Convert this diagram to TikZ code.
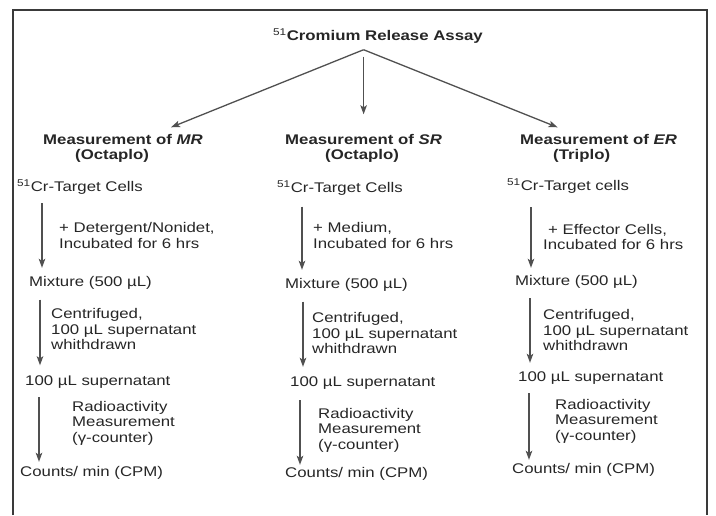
\documentclass[tikz,border=0pt]{standalone}
\usepackage{fontspec}
\setmainfont{Liberation Sans}[FakeStretch=1.2]
\usetikzlibrary{arrows.meta,calc}
\definecolor{ink}{HTML}{262626}
\definecolor{arrowgray}{HTML}{505050}
\definecolor{framegray}{HTML}{3A3A3A}
\begin{document}
\begin{tikzpicture}[x=1pt,y=-1pt,
  txt/.style={font=\fontsize{14}{15.5}\selectfont, text=ink, inner sep=0pt, anchor=west, align=left},
  one/.style={txt, text height=10pt, text depth=3pt},
  hd/.style={one, font=\fontsize{14}{15}\selectfont\bfseries},
  arr/.style={draw=arrowgray, line width=1.3pt, -{Stealth[length=9pt,width=6.5pt,inset=2pt]}},
]
\useasboundingbox (0,0) rectangle (716,515);
% frame
\draw[framegray, line width=1.8pt] (13,515) -- (13,10) -- (707,10) -- (707,515);

% title
\node[hd] (title) at (273,37) {\textsuperscript{\mdseries 51}Cromium Release Assay};

% headings
\node[hd] (hMR) at (43,141) {Measurement of \textit{MR}};
\node[hd] (hMRb) at (75,156) {(Octaplo)};
\node[hd] (hSR) at (285,141) {Measurement of \textit{SR}};
\node[hd] (hSRb) at (325,156) {(Octaplo)};
\node[hd] (hER) at (520,141) {Measurement of \textit{ER}};
\node[hd] (hERb) at (553,156) {(Triplo)};

% left column
\node[one] (t1) at (17,188) {\textsuperscript{51}Cr-Target Cells};
\node[one] (m1) at (29,283) {Mixture (500 µL)};
\node[one] (s1) at (25,382) {100 µL supernatant};
\node[one] (c1) at (20,473) {Counts/ min (CPM)};
\node[txt] (l1a) at (59,235.5) {+ Detergent/Nonidet,\\Incubated for 6 hrs};
\node[txt] (l1b) at (51,329) {Centrifuged,\\100 µL supernatant\\whithdrawn};
\node[txt] (l1c) at (72,423) {Radioactivity\\Measurement\\(γ-counter)};

% middle column
\node[one] (t2) at (277,189) {\textsuperscript{51}Cr-Target Cells};
\node[one] (m2) at (285,285) {Mixture (500 µL)};
\node[one] (s2) at (290,383) {100 µL supernatant};
\node[one] (c2) at (285,474) {Counts/ min (CPM)};
\node[txt] (l2a) at (313,235.5) {+ Medium,\\Incubated for 6 hrs};
\node[txt] (l2b) at (312,333) {Centrifuged,\\100 µL supernatant\\whithdrawn};
\node[txt] (l2c) at (318,430) {Radioactivity\\Measurement\\(γ-counter)};

% right column
\node[one] (t3) at (507,187) {\textsuperscript{51}Cr-Target cells};
\node[one] (m3) at (515,282) {Mixture (500 µL)};
\node[one] (s3) at (518,378) {100 µL supernatant};
\node[one] (c3) at (512,470) {Counts/ min (CPM)};
\node[txt] (l3a) at (543,237) {\rule{5pt}{0pt}+ Effector Cells,\\Incubated for 6 hrs};
\node[txt] (l3b) at (543,330) {Centrifuged,\\100 µL supernatant\\whithdrawn};
\node[txt] (l3c) at (555,421) {Radioactivity\\Measurement\\(γ-counter)};

% top arrows
\coordinate (apex) at ($(title.south -| hSR.north)+(0,6)$);
\draw[arr] (apex) -- ($(hMR.north)+(48,-7)$);
\draw[arr] (apex) -- ($(hER.north)+(-41,-7)$);
\draw[arr] ($(apex)+(0,7)$) -- ($(hSR.north)+(0,-20)$);

% column arrows
\draw[arr] ($(t1.south -| 42,0)+(0,8.5)$) -- ($(m1.north -| 42,0)+(0,-8.5)$);
\draw[arr] ($(m1.south -| 40,0)+(0,10)$) -- ($(s1.north -| 40,0)+(0,-10)$);
\draw[arr] ($(s1.south -| 39,0)+(0,8.5)$) -- ($(c1.north -| 39,0)+(0,-4.5)$);

\draw[arr] ($(t2.south -| 302,0)+(0,11)$) -- ($(m2.north -| 302,0)+(0,-8.5)$);
\draw[arr] ($(m2.south -| 303,0)+(0,10)$) -- ($(s2.north -| 303,0)+(0,-9.5)$);
\draw[arr] ($(s2.south -| 300,0)+(0,10.5)$) -- ($(c2.north -| 300,0)+(0,-2.5)$);

\draw[arr] ($(t3.south -| 531,0)+(0,13.5)$) -- ($(m3.north -| 531,0)+(0,-7.5)$);
\draw[arr] ($(m3.south -| 530,0)+(0,9.5)$) -- ($(s3.north -| 530,0)+(0,-8.5)$);
\draw[arr] ($(s3.south -| 529,0)+(0,8.5)$) -- ($(c3.north -| 529,0)+(0,-3.5)$);
\end{tikzpicture}
\end{document}
